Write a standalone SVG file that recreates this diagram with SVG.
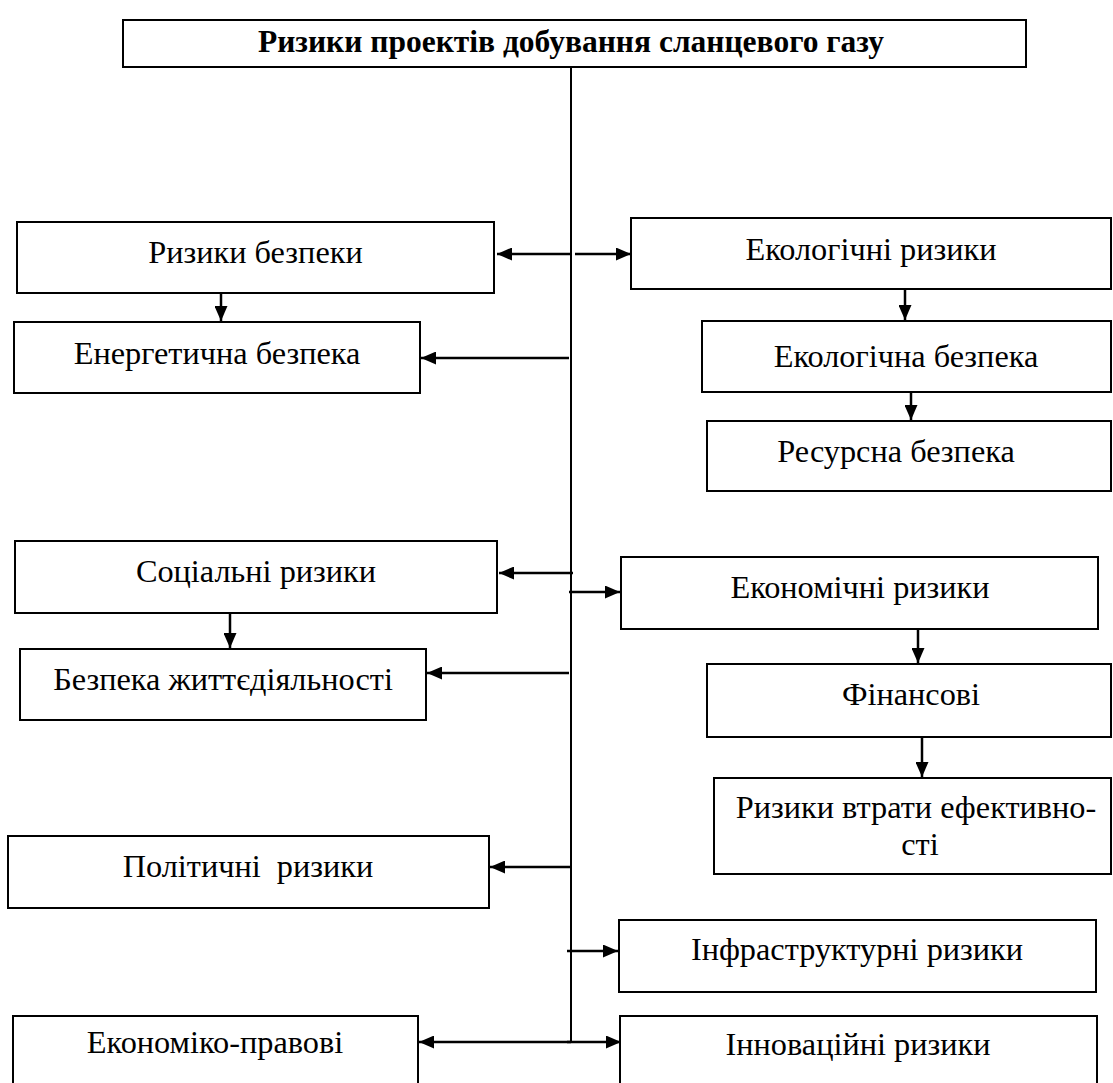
<svg xmlns="http://www.w3.org/2000/svg" width="1113" height="1083" viewBox="0 0 1113 1083">
<style>
.box{fill:#fff;stroke:#000;stroke-width:2}
.t{font-family:"Liberation Serif","Times New Roman",serif;font-size:32.3px;fill:#000;text-anchor:middle}
.title{font-family:"Liberation Serif","Times New Roman",serif;font-size:31.5px;font-weight:bold;fill:#000;text-anchor:middle}
.c{stroke:#000;stroke-width:2.5;fill:none}
.v{stroke:#000;stroke-width:2;fill:none}
</style>
<defs>
<marker id="ah" viewBox="0 0 15 13" refX="15" refY="6.5" markerWidth="15" markerHeight="13" markerUnits="userSpaceOnUse" orient="auto">
<path d="M0,0 L15,6.5 L0,13 z" fill="#000"/>
</marker>
</defs>
<rect width="1113" height="1083" fill="#fff"/>

<g id="connectors">
<line class="v" x1="571" y1="67" x2="571" y2="1043"/>
<line class="c" x1="571" y1="254" x2="497" y2="254" marker-end="url(#ah)"/>
<line class="c" x1="575" y1="254" x2="631" y2="254" marker-end="url(#ah)"/>
<line class="c" x1="569" y1="358" x2="421" y2="358" marker-end="url(#ah)"/>
<line class="c" x1="221" y1="293" x2="221" y2="321" marker-end="url(#ah)"/>
<line class="c" x1="905" y1="289" x2="905" y2="320" marker-end="url(#ah)"/>
<line class="c" x1="911" y1="392" x2="911" y2="420" marker-end="url(#ah)"/>
<line class="c" x1="573" y1="573" x2="499" y2="573" marker-end="url(#ah)"/>
<line class="c" x1="569" y1="592" x2="620" y2="592" marker-end="url(#ah)"/>
<line class="c" x1="230" y1="613" x2="230" y2="648" marker-end="url(#ah)"/>
<line class="c" x1="569" y1="673" x2="427" y2="673" marker-end="url(#ah)"/>
<line class="c" x1="918" y1="629" x2="918" y2="663" marker-end="url(#ah)"/>
<line class="c" x1="922" y1="737" x2="922" y2="777" marker-end="url(#ah)"/>
<line class="c" x1="570" y1="867" x2="490" y2="867" marker-end="url(#ah)"/>
<line class="c" x1="567" y1="951" x2="618" y2="951" marker-end="url(#ah)"/>
<line class="c" x1="571" y1="1042" x2="419" y2="1042" marker-end="url(#ah)"/>
<line class="c" x1="567" y1="1042" x2="621" y2="1042" marker-end="url(#ah)"/>
</g>

<g id="n-title">
<rect class="box" x="123" y="20" width="903" height="47"/>
<text class="title" x="571" y="52">Ризики проектів добування сланцевого газу</text>
</g>
<g id="n-bezpeky">
<rect class="box" x="17" y="222" width="477" height="71"/>
<text class="t" x="255.5" y="263">Ризики безпеки</text>
</g>
<g id="n-energ">
<rect class="box" x="14" y="322" width="406" height="71"/>
<text class="t" x="217" y="364">Енергетична безпека</text>
</g>
<g id="n-ekol">
<rect class="box" x="631" y="218" width="480" height="71"/>
<text class="t" x="871" y="260">Екологічні ризики</text>
</g>
<g id="n-ekolbez">
<rect class="box" x="702" y="321" width="409" height="71"/>
<text class="t" x="906" y="367">Екологічна безпека</text>
</g>
<g id="n-resurs">
<rect class="box" x="707" y="421" width="404" height="70"/>
<text class="t" x="896" y="462">Ресурсна безпека</text>
</g>
<g id="n-social">
<rect class="box" x="15" y="541" width="482" height="72"/>
<text class="t" x="256" y="582">Соціальні ризики</text>
</g>
<g id="n-life">
<rect class="box" x="20" y="649" width="406" height="71"/>
<text class="t" x="223" y="690">Безпека життєдіяльності</text>
</g>
<g id="n-econ">
<rect class="box" x="621" y="557" width="477" height="72"/>
<text class="t" x="860" y="598">Економічні ризики</text>
</g>
<g id="n-fin">
<rect class="box" x="707" y="664" width="404" height="73"/>
<text class="t" x="911" y="705">Фінансові</text>
</g>
<g id="n-eff">
<rect class="box" x="714" y="778" width="397" height="96"/>
<text class="t" x="916" y="818">Ризики втрати ефективно-</text>
<text class="t" x="920" y="855">сті</text>
</g>
<g id="n-polit">
<rect class="box" x="8" y="836" width="481" height="72"/>
<text class="t" x="248" y="877" xml:space="preserve">Політичні  ризики</text>
</g>
<g id="n-infra">
<rect class="box" x="619" y="920" width="477" height="72"/>
<text class="t" x="857" y="960">Інфраструктурні ризики</text>
</g>
<g id="n-ekpr">
<rect class="box" x="13" y="1016" width="405" height="90"/>
<text class="t" x="215" y="1053">Економіко-правові</text>
</g>
<g id="n-innov">
<rect class="box" x="620" y="1016" width="477" height="90"/>
<text class="t" x="858" y="1055">Інноваційні ризики</text>
</g>
</svg>
